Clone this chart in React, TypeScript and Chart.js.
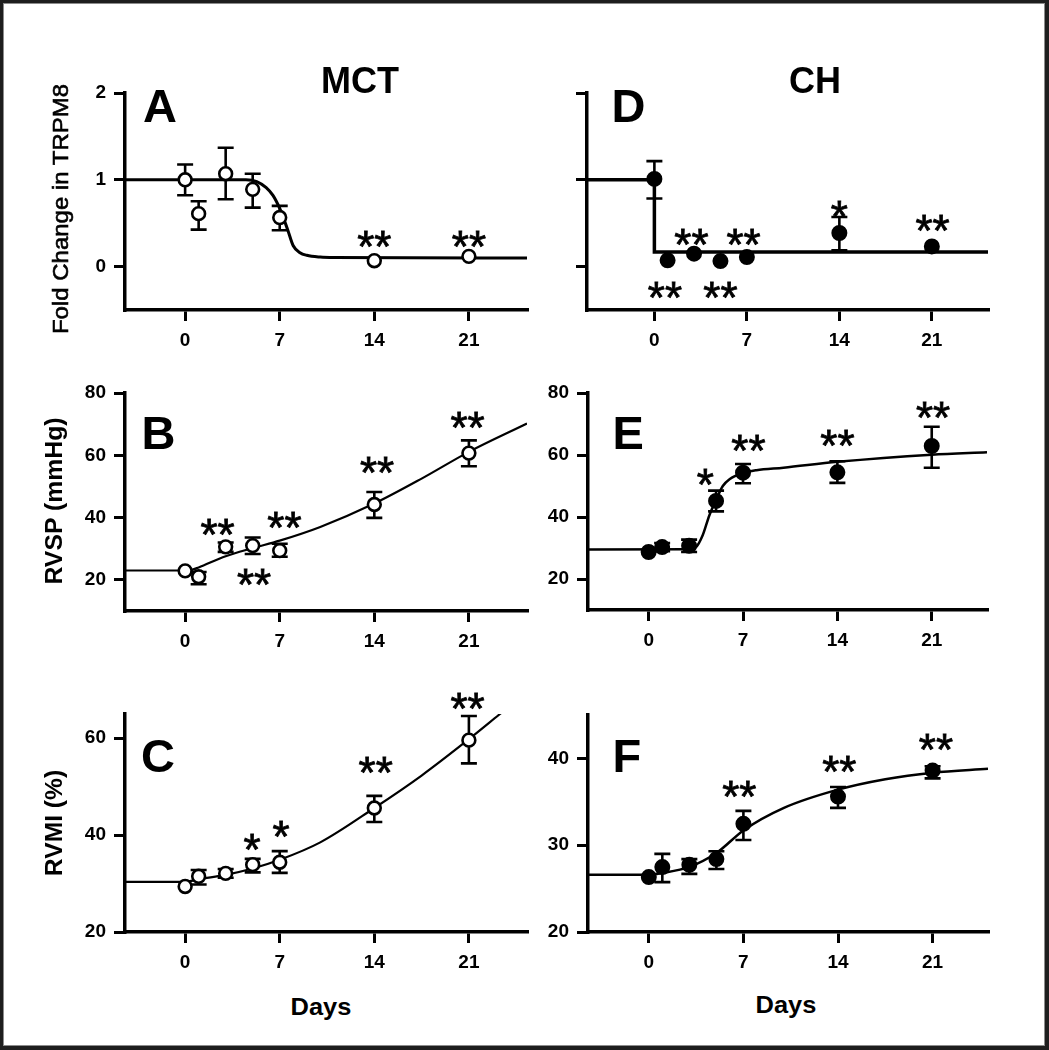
import React, { useEffect, useRef } from "react";
import { Chart, registerables } from "chart.js";

Chart.register(...registerables);

const FONT = '"Liberation Sans", Arial, Helvetica, sans-serif';
Chart.defaults.font.family = FONT;
Chart.defaults.color = "#000";

// ---------------- data ----------------
const days = [0, 1, 3, 5, 7, 14, 21];
const xTicks = [0, 7, 14, 21];

// A – MCT, fold change in TRPM8
const mctTrpm8 = [1.0, 0.61, 1.07, 0.89, 0.565, 0.068, 0.118];
const mctTrpm8Hi = [1.177, 0.753, 1.37, 1.07, 0.7, 0.068, 0.118];
const mctTrpm8Lo = [0.822, 0.426, 0.776, 0.68, 0.418, 0.068, 0.118];
const mctTrpm8FitX = [-4.45, 4.5, 5.3, 6, 6.5, 7, 7.3, 7.6, 8, 8.5, 9, 10, 11, 25.3];
const mctTrpm8FitY = [1, 1, 0.98, 0.91, 0.82, 0.67, 0.55, 0.42, 0.24, 0.16, 0.13, 0.11, 0.105, 0.1];
const mctTrpm8StarX = [14, 21];
const mctTrpm8StarY = [0.34, 0.34];
const mctTrpm8StarText = ["**", "**"];

// B – MCT, RVSP (mmHg)
const mctRvsp = [22.9, 21.0, 30.6, 31.0, 29.4, 44.2, 60.7];
const mctRvspHi = [22.9, 22.5, 32.0, 33.6, 31.6, 48.2, 64.8];
const mctRvspLo = [22.9, 18.6, 29.0, 28.3, 27.4, 39.9, 56.5];
const mctRvspFitX = [-4.45, 0, 0.5, 1, 3, 5, 7, 10, 14, 17.5, 21, 25.3];
const mctRvspFitY = [23, 23, 23.2, 24.0, 27.6, 30.2, 32.6, 37.0, 44.5, 52.5, 61.1, 70.2];
const mctRvspStarX = [2.4, 5.1, 7.35, 14.2, 20.9];
const mctRvspStarY = [37.6, 21.5, 39.8, 57.5, 72.0];
const mctRvspStarText = ["**", "**", "**", "**", "**"];

// C – MCT, RVMI (%)
const mctRvmi = [29.4, 31.5, 32.1, 33.9, 34.4, 45.6, 59.6];
const mctRvmiHi = [29.4, 32.8, 33.0, 35.1, 36.7, 48.1, 64.6];
const mctRvmiLo = [29.4, 29.8, 31.2, 32.3, 32.2, 42.7, 54.8];
const mctRvmiFitX = [-4.45, 0, 1, 3, 5, 7, 10, 14, 17.5, 21, 23.3, 25.3];
const mctRvmiFitY = [30.35, 30.35, 30.9, 31.8, 33.1, 34.9, 38.5, 45.6, 52.3, 59.8, 65.0, 69.5];
const mctRvmiStarX = [4.95, 7.1, 14.1, 20.9];
const mctRvmiStarY = [39.0, 41.7, 54.9, 68.1];
const mctRvmiStarText = ["*", "*", "**", "**"];

// D – CH, fold change in TRPM8
const chTrpm8 = [1.01, 0.072, 0.149, 0.064, 0.11, 0.387, 0.233];
const chTrpm8Hi = [1.215, 0.072, 0.149, 0.064, 0.11, 0.572, 0.233];
const chTrpm8Lo = [0.784, 0.072, 0.149, 0.064, 0.11, 0.187, 0.233];
const chTrpm8FitX = [-5.1, 0, 0, 25.25];
const chTrpm8FitY = [1, 1, 0.167, 0.167];
const chTrpm8StarX = [0.8, 2.8, 5.0, 6.75, 14, 21.05];
const chTrpm8StarY = [-0.24, 0.36, -0.24, 0.36, 0.69, 0.53];
const chTrpm8StarText = ["**", "**", "**", "**", "*", "**"];

// E – CH, RVSP (mmHg)
const chRvsp = [28.7, 30.3, 30.7, 45.2, 54.3, 54.4, 62.9];
const chRvspHi = [28.7, 31.6, 32.7, 48.5, 57.1, 58.0, 69.1];
const chRvspLo = [28.7, 29.0, 28.7, 41.8, 50.9, 51.0, 55.9];
const chRvspFitX = [-4.5, 3, 3.5, 4, 4.5, 5, 5.5, 6, 7, 8, 10, 14, 21, 25.1];
const chRvspFitY = [29.5, 29.6, 30.2, 34.0, 40.5, 45.5, 50.0, 52.2, 54.2, 55.1, 55.9, 57.8, 60.1, 60.9];
const chRvspStarX = [4.2, 7.4, 14.0, 21.1];
const chRvspStarY = [53.7, 64.4, 66.3, 75.2];
const chRvspStarText = ["*", "**", "**", "**"];

// F – CH, RVMI (%)
const chRvmi = [26.33, 27.48, 27.74, 28.4, 32.46, 35.6, 38.6];
const chRvmiHi = [26.33, 29.0, 28.4, 29.3, 33.96, 36.7, 39.1];
const chRvmiLo = [26.33, 25.75, 26.7, 27.25, 30.6, 34.3, 37.7];
const chRvmiFitX = [-4.5, 0, 1, 3, 5, 7, 10, 14, 17.5, 21, 25.1];
const chRvmiFitY = [26.6, 26.6, 26.8, 27.5, 29.1, 31.7, 34.3, 36.4, 37.6, 38.35, 38.8];
const chRvmiStarX = [6.7, 14.1, 21.25];
const chRvmiStarY = [36.7, 39.6, 42.1];
const chRvmiStarText = ["**", "**", "**"];

const trpm8Ticks = [0, 1, 2];
const rvspTicks = [20, 40, 60, 80];
const mctRvmiTicks = [20, 40, 60];
const chRvmiTicks = [20, 30, 40];

// ---------------- layout ----------------
const PAD_L = 70;
const PAD_R = 20;
const PAD_T = 45;
const PAD_B = 50;

type PanelSpec = {
  key: string;
  l: number; t: number; r: number; b: number;
  xMin: number; xMax: number; yMin: number; yMax: number;
  yTicks: number[]; showYLabels: boolean;
  mean: number[]; hi: number[]; lo: number[];
  fitX: number[]; fitY: number[]; step: boolean; fitWidth: number;
  starX: number[]; starY: number[]; starText: string[];
  filled: boolean;
};

const panels: PanelSpec[] = [
  { key: "A", l: 125, t: 93, r: 527, b: 310, xMin: -4.45, xMax: 25.3, yMin: -0.5, yMax: 2, yTicks: trpm8Ticks, showYLabels: true,
    mean: mctTrpm8, hi: mctTrpm8Hi, lo: mctTrpm8Lo, fitX: mctTrpm8FitX, fitY: mctTrpm8FitY, step: false, fitWidth: 3,
    starX: mctTrpm8StarX, starY: mctTrpm8StarY, starText: mctTrpm8StarText, filled: false },
  { key: "B", l: 125, t: 393, r: 527, b: 611, xMin: -4.45, xMax: 25.3, yMin: 10, yMax: 80, yTicks: rvspTicks, showYLabels: true,
    mean: mctRvsp, hi: mctRvspHi, lo: mctRvspLo, fitX: mctRvspFitX, fitY: mctRvspFitY, step: false, fitWidth: 2.2,
    starX: mctRvspStarX, starY: mctRvspStarY, starText: mctRvspStarText, filled: false },
  { key: "C", l: 125, t: 714, r: 527, b: 932, xMin: -4.45, xMax: 25.3, yMin: 20, yMax: 65, yTicks: mctRvmiTicks, showYLabels: true,
    mean: mctRvmi, hi: mctRvmiHi, lo: mctRvmiLo, fitX: mctRvmiFitX, fitY: mctRvmiFitY, step: false, fitWidth: 2.2,
    starX: mctRvmiStarX, starY: mctRvmiStarY, starText: mctRvmiStarText, filled: false },
  { key: "D", l: 587, t: 93, r: 988, b: 310, xMin: -5.1, xMax: 25.25, yMin: -0.5, yMax: 2, yTicks: trpm8Ticks, showYLabels: false,
    mean: chTrpm8, hi: chTrpm8Hi, lo: chTrpm8Lo, fitX: chTrpm8FitX, fitY: chTrpm8FitY, step: true, fitWidth: 3.5,
    starX: chTrpm8StarX, starY: chTrpm8StarY, starText: chTrpm8StarText, filled: true },
  { key: "E", l: 588, t: 393, r: 987, b: 610, xMin: -4.5, xMax: 25.1, yMin: 10, yMax: 80, yTicks: rvspTicks, showYLabels: true,
    mean: chRvsp, hi: chRvspHi, lo: chRvspLo, fitX: chRvspFitX, fitY: chRvspFitY, step: false, fitWidth: 2.5,
    starX: chRvspStarX, starY: chRvspStarY, starText: chRvspStarText, filled: true },
  { key: "F", l: 588, t: 715, r: 988, b: 932, xMin: -4.5, xMax: 25.1, yMin: 20, yMax: 45, yTicks: chRvmiTicks, showYLabels: true,
    mean: chRvmi, hi: chRvmiHi, lo: chRvmiLo, fitX: chRvmiFitX, fitY: chRvmiFitY, step: false, fitWidth: 2.5,
    starX: chRvmiStarX, starY: chRvmiStarY, starText: chRvmiStarText, filled: true },
];

const STAR_SIZE = 44;

function buildConfig(p: PanelSpec): any {
  const errPlugin = {
    id: "errbars" + p.key,
    beforeDatasetDraw(chart: any, args: any) {
      if (args.index !== 1) return;
      const xs = chart.scales.x;
      const ys = chart.scales.y;
      const ctx = chart.ctx;
      ctx.save();
      ctx.strokeStyle = "#000";
      ctx.lineWidth = 2.6;
      ctx.lineCap = "butt";
      for (let i = 0; i < days.length; i++) {
        const px = xs.getPixelForValue(days[i]);
        const yh = ys.getPixelForValue(p.hi[i]);
        const yl = ys.getPixelForValue(p.lo[i]);
        if (Math.abs(yh - yl) < 1) continue;
        ctx.beginPath();
        ctx.moveTo(px, yh);
        ctx.lineTo(px, yl);
        ctx.moveTo(px - 8, yh);
        ctx.lineTo(px + 8, yh);
        ctx.moveTo(px - 8, yl);
        ctx.lineTo(px + 8, yl);
        ctx.stroke();
      }
      ctx.restore();
    },
  };
  const starPlugin = {
    id: "stars" + p.key,
    afterDatasetsDraw(chart: any) {
      const xs = chart.scales.x;
      const ys = chart.scales.y;
      const ctx = chart.ctx;
      ctx.save();
      ctx.fillStyle = "#000";
      ctx.strokeStyle = "#000";
      ctx.lineWidth = 0.8;
      ctx.font = `normal ${STAR_SIZE}px ${FONT}`;
      ctx.textAlign = "center";
      ctx.textBaseline = "alphabetic";
      for (let i = 0; i < p.starX.length; i++) {
        const px = xs.getPixelForValue(p.starX[i]);
        const py = ys.getPixelForValue(p.starY[i]);
        ctx.fillText(p.starText[i], px, py + 0.57 * STAR_SIZE);
        ctx.strokeText(p.starText[i], px, py + 0.57 * STAR_SIZE);
      }
      ctx.restore();
    },
  };
  return {
    type: "scatter",
    data: {
      datasets: [
        {
          data: p.fitX.map((x, i) => ({ x, y: p.fitY[i] })),
          showLine: true,
          borderColor: "#000",
          borderWidth: p.fitWidth,
          pointRadius: 0,
          pointHoverRadius: 0,
          tension: 0,
          cubicInterpolationMode: p.step ? "default" : "monotone",
          order: 2,
        },
        {
          data: days.map((x, i) => ({ x, y: p.mean[i] })),
          showLine: false,
          pointRadius: p.filled ? 7 : 6.4,
          pointHoverRadius: p.filled ? 7 : 6.4,
          pointBorderWidth: p.filled ? 2 : 2.6,
          pointBackgroundColor: p.filled ? "#000" : "#fff",
          pointBorderColor: "#000",
          order: 1,
        },
      ],
    },
    options: {
      animation: false,
      responsive: false,
      maintainAspectRatio: false,
      events: [],
      layout: { padding: { top: PAD_T, right: PAD_R, left: 0, bottom: 0 } },
      plugins: { legend: { display: false }, tooltip: { enabled: false } },
      scales: {
        x: {
          type: "linear",
          min: p.xMin,
          max: p.xMax,
          afterBuildTicks: (s: any) => { s.ticks = xTicks.map((v) => ({ value: v })); },
          afterFit: (s: any) => { s.height = PAD_B; },
          grid: { drawOnChartArea: false, drawTicks: true, tickLength: 11, tickWidth: 3, tickColor: "#000", lineWidth: 3, color: "#000" },
          border: { display: true, color: "#000", width: 3.5 },
          ticks: { color: "#000", font: { size: 19, weight: "bold" }, padding: 8, maxRotation: 0, autoSkip: false, callback: (v: any) => String(v) },
        },
        y: {
          type: "linear",
          min: p.yMin,
          max: p.yMax,
          afterBuildTicks: (s: any) => { s.ticks = p.yTicks.map((v) => ({ value: v })); },
          afterFit: (s: any) => { s.width = PAD_L; },
          grid: { drawOnChartArea: false, drawTicks: true, tickLength: 11, tickWidth: 3, tickColor: "#000", lineWidth: 3, color: "#000" },
          border: { display: true, color: "#000", width: 3.5 },
          ticks: { color: "#000", font: { size: 19, weight: "bold" }, padding: 8, autoSkip: false, callback: (v: any) => (p.showYLabels ? String(v) : "") },
        },
      },
    },
    plugins: [errPlugin, starPlugin],
  };
}

function PanelChart({ p }: { p: PanelSpec }) {
  const ref = useRef<HTMLCanvasElement>(null);
  const W = p.r - p.l + PAD_L + PAD_R;
  const H = p.b - p.t + PAD_T + PAD_B;
  useEffect(() => {
    const chart = new Chart(ref.current as HTMLCanvasElement, buildConfig(p));
    return () => chart.destroy();
  }, []);
  return (
    <canvas
      ref={ref}
      width={W}
      height={H}
      style={{ position: "absolute", left: p.l - PAD_L, top: p.t - PAD_T, width: W, height: H }}
    />
  );
}

function Txt({ x, y, size, bold, text, center, sx = 1 }: { x: number; y: number; size: number; bold?: boolean; text: string; center?: boolean; sx?: number }) {
  return (
    <div
      style={{
        position: "absolute",
        left: x,
        top: y - 0.8465 * size,
        fontSize: size,
        lineHeight: `${size}px`,
        fontWeight: bold ? "bold" : "normal",
        whiteSpace: "nowrap",
        transform: center ? `translateX(-50%) scaleX(${sx})` : `scaleX(${sx})`,
        transformOrigin: center ? "50% 50%" : "0 50%",
        color: "#000",
      }}
    >
      {text}
    </div>
  );
}

function VTxt({ cx, cy, size, bold, text, sx = 1, stroke }: { cx: number; cy: number; size: number; bold?: boolean; text: string; sx?: number; stroke?: number }) {
  return (
    <div
      style={{
        position: "absolute",
        left: cx,
        top: cy,
        fontSize: size,
        lineHeight: `${size}px`,
        fontWeight: bold ? "bold" : "normal",
        whiteSpace: "nowrap",
        transform: `translate(-50%, -50%) rotate(-90deg) scaleX(${sx})`,
        color: "#000",
        WebkitTextStroke: stroke ? `${stroke}px #000` : undefined,
      }}
    >
      {text}
    </div>
  );
}

export default function App() {
  return (
    <div
      style={{
        position: "fixed",
        left: 0,
        top: 0,
        width: 1049,
        height: 1050,
        background: "#fff",
        overflow: "hidden",
        fontFamily: FONT,
      }}
    >
      {panels.map((p) => (
        <PanelChart key={p.key} p={p} />
      ))}

      <Txt x={360} y={93} size={36} bold center text="MCT" />
      <Txt x={815} y={93} size={36} bold center text="CH" />

      <Txt x={143} y={122} size={47} bold text="A" />
      <Txt x={141.5} y={448.5} size={47} bold text="B" />
      <Txt x={141} y={772} size={47} bold text="C" />
      <Txt x={611.5} y={122} size={47} bold text="D" />
      <Txt x={612.5} y={449} size={47} bold text="E" />
      <Txt x={612.5} y={772} size={47} bold text="F" />

      <VTxt cx={61} cy={209} size={22} sx={1.09} stroke={0.6} text="Fold Change in TRPM8" />
      <VTxt cx={55.3} cy={501} size={23.5} bold sx={1.055} text="RVSP (mmHg)" />
      <VTxt cx={55.3} cy={823} size={23.5} bold sx={1.048} text="RVMI (%)" />

      <Txt x={320.8} y={1015} size={24} bold center sx={1.06} text="Days" />
      <Txt x={785.8} y={1013.3} size={24} bold center sx={1.06} text="Days" />

      <div
        style={{
          position: "absolute",
          left: 0,
          top: 0,
          width: 1049,
          height: 1050,
          boxSizing: "border-box",
          borderStyle: "solid",
          borderColor: "#1e1e1e",
          borderWidth: "3px 4px 4px 3px",
          boxShadow: "inset 0 0 0 1px #8c8c8c",
          pointerEvents: "none",
        }}
      />
    </div>
  );
}
